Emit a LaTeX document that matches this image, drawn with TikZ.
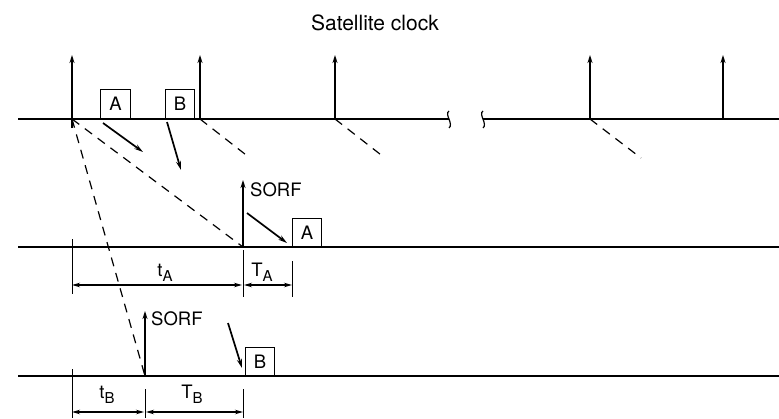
\documentclass[tikz,border=0pt]{standalone}
\usepackage{fontspec}
\setmainfont{TeX Gyre Heros}
\usetikzlibrary{arrows.meta}
\newcommand\titlefnt{\fontsize{21pt}{24pt}\selectfont}
\newcommand\lblfnt{\fontsize{18.5pt}{22pt}\selectfont}
\newcommand\subfnt{\fontsize{15pt}{17pt}\selectfont}
\newcommand\subsc[1]{\raisebox{-0.32em}{\subfnt #1}}
\tikzset{
  axis/.style={line width=1.7pt},
  pulse/.style={line width=1.7pt,-{Stealth[length=8pt,width=5pt]}},
  ray/.style={line width=1.2pt,dash pattern=on 9pt off 7pt},
  msg/.style={line width=1.7pt,-{Stealth[length=9pt,width=5pt]}},
  boxlbl/.style={draw,line width=1.1pt,minimum width=29pt,minimum height=29pt,inner sep=0pt,font=\lblfnt},
  txtlbl/.style={inner sep=0pt,font=\lblfnt},
  tickline/.style={line width=1pt},
  dim/.style={line width=1.1pt,{Stealth[length=8pt,width=4.5pt]}-{Stealth[length=8pt,width=4.5pt]}}
}
\begin{document}
\begin{tikzpicture}[x=1pt,y=-1pt]
\useasboundingbox (0,0) rectangle (779,418);

% title
\node[font=\titlefnt, inner sep=0pt, anchor=base] (title) at (375,30) {Satellite clock};

% ---- satellite clock line ----
\coordinate (s0) at (18,119);
\coordinate (s1) at (449,119);
\coordinate (s2) at (483,119);
\coordinate (s3) at (779,119);
\draw[axis] (s0) -- (s1);
\draw[axis] (s2) -- (s3);
% break marks
\draw[line width=1.2pt] (449,111) .. controls (444,114) and (454,124) .. (449,128);
\draw[line width=1.2pt] (483,111) .. controls (478,114) and (488,124) .. (483,128);

% pulses
\coordinate (p1) at (72,119);   \coordinate (p1t) at (72,55);
\coordinate (p2) at (200,119);  \coordinate (p2t) at (200,55);
\coordinate (p3) at (335,119);  \coordinate (p3t) at (335,55);
\coordinate (p4) at (590,119);  \coordinate (p4t) at (590,55);
\coordinate (p5) at (723,119);  \coordinate (p5t) at (723,55);
\draw[pulse] (72,128) -- (p1t);
\draw[pulse] (p2) -- (p2t);
\draw[pulse] (p3) -- (p3t);
\draw[pulse] (p4) -- (p4t);
\draw[pulse] (p5) -- (p5t);

% short dashed rays
\coordinate (r2) at (250,158);
\coordinate (r3) at (385,158);
\coordinate (r4) at (641,158);
\draw[ray] (p2) -- (r2);
\draw[ray] (p3) -- (r3);
\draw[ray] (p4) -- (r4);

% boxes on top line
\node[boxlbl, minimum width=30pt, anchor=south west] (bA) at (100,119) {A};
\node[boxlbl, anchor=south west] (bB) at (165,119) {B};
\coordinate (aS) at (103,123); \coordinate (aE) at (143,152);
\coordinate (bS) at (167,122); \coordinate (bE) at (181,170);
\draw[msg] (aS) -- (aE);
\draw[msg] (bS) -- (bE);

% ---- receiver A line ----
\coordinate (m0) at (18,247);
\coordinate (m1) at (779,247);
\draw[axis] (m0) -- (m1);
\coordinate (sA) at (243,247);
\coordinate (sAt) at (243,180);
\draw[pulse] (sA) -- (sAt);
\node[txtlbl, anchor=base west] (sorfA) at (250,196.5) {SORF};
\draw[ray] (p1) -- (sA);
\node[boxlbl, minimum height=28pt, anchor=south west] (rA) at (292,247) {A};
\coordinate (raS) at (247,213); \coordinate (raE) at (287,243);
\draw[msg] (raS) -- (raE);

% dimensions A
\draw[tickline] (72,239) -- (72,294);
\draw[tickline] (243,250) -- (243,297);
\draw[tickline] (292,261) -- (292,297);
\coordinate (dA0) at (72,285);
\coordinate (dA1) at (242,285);
\coordinate (dA2) at (244,285);
\coordinate (dA3) at (292,285);
\draw[dim] (dA0) -- (dA1);
\draw[dim] (dA2) -- (dA3);
\node[txtlbl, anchor=base] (tA) at (165,276) {t\subsc{A}};
\node[txtlbl, anchor=base] (TA) at (262,276) {T\subsc{A}};

% ---- receiver B line ----
\coordinate (n0) at (18,376);
\coordinate (n1) at (779,376);
\draw[axis] (n0) -- (n1);
\coordinate (sB) at (145,376);
\coordinate (sBt) at (145,311);
\draw[pulse] (sB) -- (sBt);
\node[txtlbl, anchor=base west] (sorfB) at (151,325) {SORF};
\draw[ray] (p1) -- (sB);
\node[boxlbl, minimum height=28pt, anchor=south west] (rB) at (245,376) {B};
\coordinate (rbS) at (228,323); \coordinate (rbE) at (242,368);
\draw[msg] (rbS) -- (rbE);

% dimensions B
\draw[tickline] (72,369) -- (72,418);
\draw[tickline] (145,389) -- (145,418);
\draw[tickline] (243,389) -- (243,418);
\coordinate (dB0) at (72,412);
\coordinate (dB1) at (144,412);
\coordinate (dB2) at (146,412);
\coordinate (dB3) at (243,412);
\draw[dim] (dB0) -- (dB1);
\draw[dim] (dB2) -- (dB3);
\node[txtlbl, anchor=base] (tB) at (107,398) {t\subsc{B}};
\node[txtlbl, anchor=base] (TB) at (192,398) {T\subsc{B}};
\end{tikzpicture}
\end{document}
